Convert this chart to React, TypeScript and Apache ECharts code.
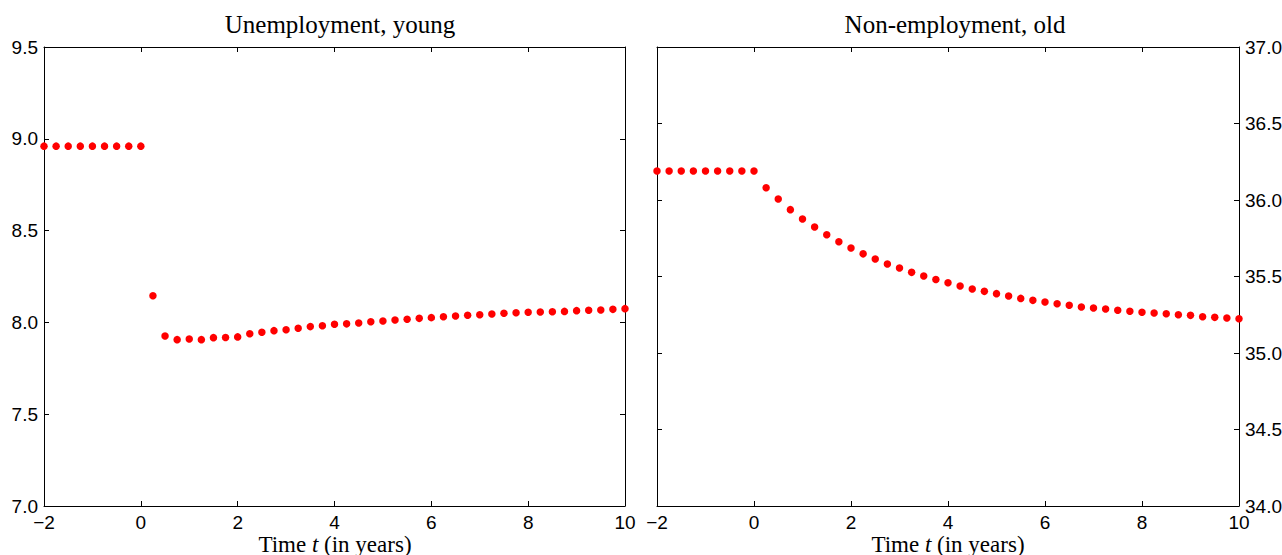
import React, { useEffect, useRef } from "react";
import * as echarts from "echarts";

const timeYears = [
  -2, -1.75, -1.5, -1.25, -1, -0.75, -0.5, -0.25, 0,
  0.25, 0.5, 0.75, 1, 1.25, 1.5, 1.75, 2,
  2.25, 2.5, 2.75, 3, 3.25, 3.5, 3.75, 4,
  4.25, 4.5, 4.75, 5, 5.25, 5.5, 5.75, 6,
  6.25, 6.5, 6.75, 7, 7.25, 7.5, 7.75, 8,
  8.25, 8.5, 8.75, 9, 9.25, 9.5, 9.75, 10,
];

const unemploymentYoung = [
  8.96, 8.96, 8.96, 8.96, 8.96, 8.96, 8.96, 8.96, 8.96,
  8.145, 7.926, 7.906, 7.91, 7.906, 7.917, 7.918, 7.921,
  7.938, 7.946, 7.955, 7.96, 7.968, 7.977, 7.982, 7.99,
  7.992, 7.997, 8.004, 8.008, 8.013, 8.017, 8.022, 8.026,
  8.031, 8.035, 8.039, 8.042, 8.046, 8.05, 8.053, 8.055,
  8.057, 8.058, 8.06, 8.064, 8.066, 8.068, 8.071, 8.075,
];

const nonEmploymentOld = [
  36.19, 36.19, 36.19, 36.19, 36.19, 36.19, 36.19, 36.19, 36.19,
  36.08, 36.007, 35.937, 35.876, 35.824, 35.773, 35.727, 35.686,
  35.648, 35.614, 35.582, 35.555, 35.527, 35.503, 35.48, 35.459,
  35.438, 35.418, 35.403, 35.388, 35.373, 35.357, 35.344, 35.333,
  35.322, 35.312, 35.301, 35.294, 35.288, 35.279, 35.273, 35.266,
  35.261, 35.257, 35.25, 35.246, 35.237, 35.233, 35.229, 35.224,
];

const panelTitles = ["Unemployment, young", "Non-employment, old"];
const xAxisTitle = "{r|Time }{i|t}{r| (in years)}";
const xRange = { min: -2, max: 10, interval: 2 };
const yRangeYoung = { min: 7.0, max: 9.5, interval: 0.5 };
const yRangeOld = { min: 34.0, max: 37.0, interval: 0.5 };

const SERIF = "'Liberation Serif', 'Times New Roman', serif";
const SANS = "'Liberation Sans', Arial, sans-serif";

export default function App() {
  const ref = useRef<HTMLDivElement>(null);

  useEffect(() => {
    if (!ref.current) return;
    const chart = echarts.init(ref.current, undefined, { renderer: "svg" });

    const minusFmt = (v: number) => String(v).replace("-", "\u2212");
    const axisLine = { show: true, onZero: false, lineStyle: { color: "#000", width: 1 } };
    const tick = { show: true, inside: true, length: 5, lineStyle: { color: "#000" } };
    const labelStyle = { color: "#000", fontFamily: SANS, fontSize: 19 };

    const xBottom = (gi: number) => ({
      type: "value",
      gridIndex: gi,
      position: "bottom",
      ...xRange,
      axisLine,
      axisTick: tick,
      splitLine: { show: false },
      axisLabel: { ...labelStyle, margin: 7, formatter: minusFmt },
    });
    const xTop = (gi: number) => ({
      type: "value",
      gridIndex: gi,
      position: "top",
      ...xRange,
      axisLine,
      axisTick: tick,
      splitLine: { show: false },
      axisLabel: { show: false },
    });
    const yAx = (gi: number, pos: string, range: any, showLabel: boolean) => ({
      type: "value",
      gridIndex: gi,
      position: pos,
      ...range,
      axisLine,
      axisTick: tick,
      splitLine: { show: false },
      axisLabel: showLabel
        ? { ...labelStyle, margin: 6, formatter: (v: number) => v.toFixed(1) }
        : { show: false },
    });

    const titleStyle = { fontFamily: SERIF, fontSize: 25, fontWeight: "normal", color: "#000" };
    const nameRich = {
      r: { fontFamily: SERIF, fontSize: 23, fill: "#000", color: "#000" },
      i: { fontFamily: SERIF, fontSize: 23, fontStyle: "italic", fill: "#000", color: "#000" },
    };
    const axisName = (cx: number) => ({
      type: "text",
      x: cx,
      y: 544,
      style: {
        text: xAxisTitle,
        rich: nameRich,
        align: "center",
        verticalAlign: "middle",
        fill: "#000",
      },
    });

    chart.setOption({
      animation: false,
      backgroundColor: "#fff",
      title: [
        { text: panelTitles[0], left: 335, top: 7, textAlign: "center", textStyle: titleStyle },
        { text: panelTitles[1], left: 950, top: 7, textAlign: "center", textStyle: titleStyle },
      ],
      graphic: [axisName(335), axisName(948)],
      grid: [
        { left: 44, top: 47, width: 581, height: 459, outerBoundsMode: "none", containLabel: false },
        { left: 657, top: 47, width: 582, height: 459, outerBoundsMode: "none", containLabel: false },
      ],
      xAxis: [xBottom(0), xTop(0), xBottom(1), xTop(1)],
      yAxis: [
        yAx(0, "left", yRangeYoung, true),
        yAx(0, "right", yRangeYoung, false),
        yAx(1, "left", yRangeOld, false),
        yAx(1, "right", yRangeOld, true),
      ],
      series: [
        {
          type: "scatter",
          xAxisIndex: 0,
          yAxisIndex: 0,
          clip: false,
          symbol: "circle",
          symbolSize: 7.5,
          itemStyle: { color: "#ff0000", opacity: 1 },
          data: timeYears.map((t, i) => [t, unemploymentYoung[i]]),
        },
        {
          type: "scatter",
          xAxisIndex: 2,
          yAxisIndex: 3,
          clip: false,
          symbol: "circle",
          symbolSize: 7.5,
          itemStyle: { color: "#ff0000", opacity: 1 },
          data: timeYears.map((t, i) => [t, nonEmploymentOld[i]]),
        },
      ],
    });

    return () => chart.dispose();
  }, []);

  return (
    <div
      ref={ref}
      style={{ position: "fixed", left: 0, top: 0, width: 1282, height: 555, background: "#fff" }}
    />
  );
}
